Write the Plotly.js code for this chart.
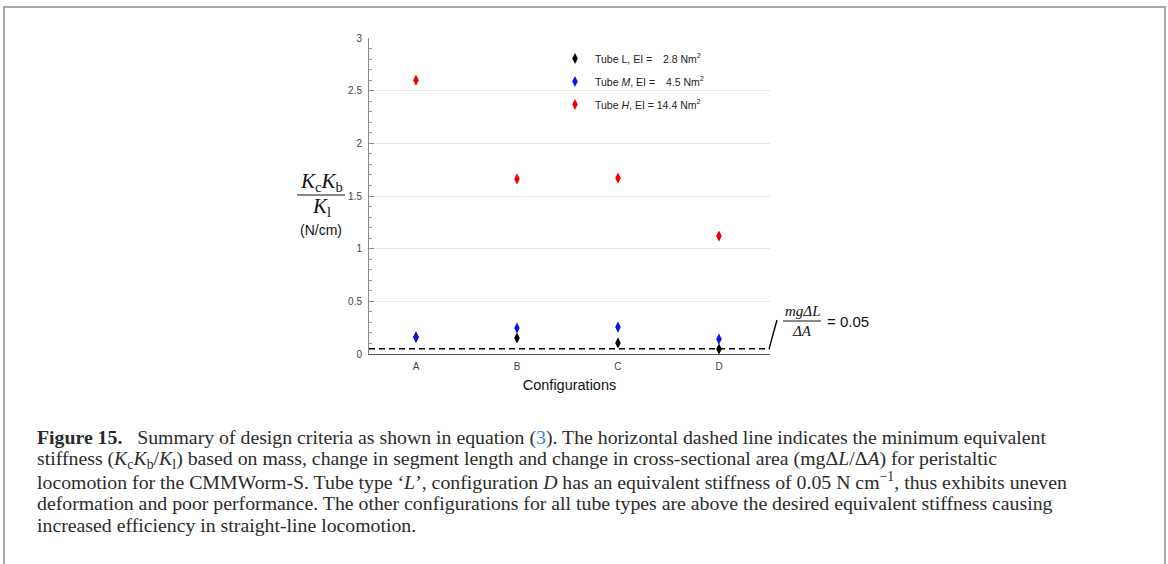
<!DOCTYPE html>
<html>
<head>
<meta charset="utf-8">
<script src="https://cdn.plot.ly/plotly-3.0.1.min.js"></script>
<style>
  html, body { margin: 0; padding: 0; background: #fff; }
  #frame { position: absolute; left: 3px; top: 6px; width: 1159px; height: 600px;
           border-top: 2px solid #a8a8a8; border-left: 2px solid #a8a8a8; border-right: 2px solid #a8a8a8; }
  #chart { position: absolute; left: 0; top: 0; width: 1168px; height: 564px; }
</style>
</head>
<body>
<div id="frame"></div>
<div id="chart"></div>
<script>
// ---- data ----
const categories = ['A', 'B', 'C', 'D'];
const tubeL = [0.16, 0.152, 0.105, 0.047];
const tubeM = [0.161, 0.247, 0.256, 0.142];
const tubeH = [2.60, 1.662, 1.67, 1.12];
const threshold = 0.05;
const seriesNames = [
  'Tube L, EI = \u2007\u20092.8 Nm<sup>2</sup>',
  'Tube <i>M</i>, EI = \u2007\u20094.5 Nm<sup>2</sup>',
  'Tube <i>H</i>, EI = 14.4 Nm<sup>2</sup>'
];
const yTicks = [0, 0.5, 1, 1.5, 2, 2.5, 3];
const yTickText = ['0', '0.5', '1', '1.5', '2', '2.5', '3'];
const captionLines = [
  "<b>Figure 15.</b>   Summary of design criteria as shown in equation (<span style='color:#2e86d0'>3</span>). The horizontal dashed line indicates the minimum equivalent",
  "stiffness (<i>K</i><sub>c</sub><i>K</i><sub>b</sub>/<i>K</i><sub>l</sub>) based on mass, change in segment length and change in cross-sectional area (mgΔ<i>L</i>/Δ<i>A</i>) for peristaltic",
  "locomotion for the CMMWorm-S. Tube type ‘<i>L</i>’, configuration <i>D</i> has an equivalent stiffness of 0.05 N cm<sup>−1</sup>, thus exhibits uneven",
  "deformation and poor performance. The other configurations for all tube types are above the desired equivalent stiffness causing",
  "increased efficiency in straight-line locomotion."
];

// ---- layout geometry ----
const W = 1168, H = 564;
const L = 369, R = 770, T = 38, B = 354;
const px = x => (x - L) / (R - L);
const py = y => (B - y) / (B - T);

const colors = ['#000000', '#0a14e6', '#f00000'];
const seriesData = [tubeL, tubeM, tubeH];

const traces = seriesData.map((vals, i) => ({
  type: 'scatter',
  mode: 'markers',
  x: categories,
  y: vals,
  name: seriesNames[i],
  legendgroup: 'g' + i,
  marker: { symbol: 'diamond-tall', size: 8, color: colors[i] },
  cliponaxis: false,
  hoverinfo: 'x+y'
}));

const sans = 'Liberation Sans, Arial, sans-serif';
const serif = 'Liberation Serif, Times New Roman, serif';

function note(x, y, text, font, xa) {
  return { xref: 'paper', yref: 'paper', x: px(x), y: py(y), xanchor: xa || 'center', yanchor: 'middle',
           showarrow: false, text: text, font: font, align: xa === 'left' ? 'left' : 'center' };
}

const annotations = [];
// y-axis label (fraction)
annotations.push(note(321, 182, '<i>K</i><sub>c</sub><i>K</i><sub>b</sub>', { family: serif, size: 21, color: '#111' }));
annotations.push(note(321, 207, '<i>K</i><sub>l</sub>', { family: serif, size: 21, color: '#111' }));
annotations.push(note(321, 230, '(N/cm)', { family: sans, size: 14, color: '#111' }));
// threshold annotation
annotations.push(note(802, 311, '<i>mgΔL</i>', { family: serif, size: 15, color: '#111' }));
annotations.push(note(802, 331, '<i>ΔA</i>', { family: serif, size: 15, color: '#111' }));
annotations.push(note(825, 321, '= ' + threshold.toFixed(2), { family: sans, size: 15, color: '#111' }, 'left'));
// caption
captionLines.forEach((t, i) => {
  annotations.push(note(35, 437 + 22 * i, t, { family: serif, size: 19.8, color: '#2b2b2b' }, 'left'));
});

const shapes = [
  // dashed threshold line
  { type: 'line', xref: 'paper', yref: 'y', x0: 0, x1: 1, y0: threshold, y1: threshold,
    line: { color: '#000', width: 1.6, dash: '6px,4px' } },
  // leader line to annotation
  { type: 'line', xref: 'paper', yref: 'paper', x0: px(769), x1: px(777), y0: py(349), y1: py(320),
    line: { color: '#000', width: 1.4 } },
  // fraction bars
  { type: 'line', xref: 'paper', yref: 'paper', x0: px(297), x1: px(345), y0: py(195), y1: py(195),
    line: { color: '#111', width: 1.2 } },
  { type: 'line', xref: 'paper', yref: 'paper', x0: px(783), x1: px(821), y0: py(321), y1: py(321),
    line: { color: '#111', width: 1 } }
];

const layout = {
  width: W, height: H,
  margin: { l: L, r: W - R, t: T, b: H - B, pad: 0 },
  paper_bgcolor: 'rgba(0,0,0,0)', plot_bgcolor: 'rgba(0,0,0,0)',
  showlegend: true,
  legend: {
    x: px(555), y: py(44), xanchor: 'left', yanchor: 'top',
    bgcolor: 'rgba(0,0,0,0)', borderwidth: 0,
    font: { family: sans, size: 10.5, color: '#222' },
    itemsizing: 'trace', tracegroupgap: 4, traceorder: 'grouped'
  },
  xaxis: {
    type: 'category', range: [-0.465, 3.505],
    showline: true, linecolor: '#555', linewidth: 1, ticks: '', showgrid: false, zeroline: false,
    tickfont: { family: sans, size: 10, color: '#444' }, ticklabelstandoff: 3,
    title: { text: 'Configurations', font: { family: sans, size: 14.5, color: '#111' }, standoff: 8 },
    fixedrange: true
  },
  yaxis: {
    range: [0, 3], tickvals: yTicks, ticktext: yTickText,
    showline: true, linecolor: '#888', linewidth: 1,
    ticks: 'inside', ticklen: 5, tickcolor: '#888', ticklabelstandoff: 4,
    minor: { dtick: 0.1, ticks: 'inside', ticklen: 3, tickcolor: '#999', showgrid: false },
    showgrid: true, gridcolor: '#e8e8e8', zeroline: false,
    tickfont: { family: sans, size: 10, color: '#444' },
    fixedrange: true
  },
  annotations: annotations,
  shapes: shapes
};

Plotly.newPlot('chart', traces, layout, { displayModeBar: false, staticPlot: true });
</script>
</body>
</html>
